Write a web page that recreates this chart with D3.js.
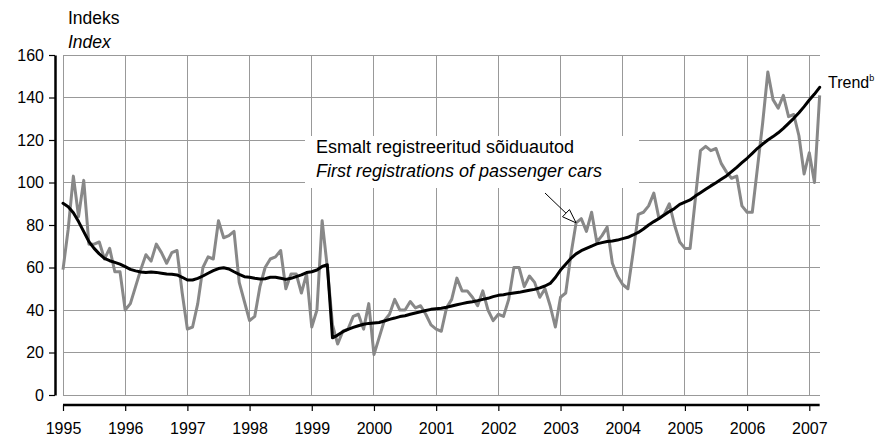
<!DOCTYPE html>
<html>
<head>
<meta charset="utf-8">
<script src="https://cdn.jsdelivr.net/npm/d3@7"></script>
<style>
  html, body { margin: 0; padding: 0; background: #fff; }
  svg text { font-family: Arial, "Liberation Sans", Helvetica, sans-serif; fill: #000; }
</style>
</head>
<body>
<svg id="chart" width="883" height="439"></svg>
<script>
// Monthly index, January 1995 – March 2007
const yearLabels = ["1995","1996","1997","1998","1999","2000","2001","2002","2003","2004","2005","2006","2007"];
const yTickValues = [0, 20, 40, 60, 80, 100, 120, 140, 160];

const registrations = [
  59, 78, 103, 84, 101, 71, 71, 72, 64, 69, 58, 58,     // 1995
  40, 43, 51, 59, 66, 63, 71, 67, 62, 67, 68, 48,       // 1996
  31, 32, 43, 60, 65, 64, 82, 74, 75, 77, 53, 44,       // 1997
  35, 37, 51, 60, 64, 65, 68, 50, 57, 57, 48, 57,       // 1998
  32, 40, 82, 60, 33, 24, 30, 31, 37, 38, 31, 43,       // 1999
  19, 27, 35, 38, 45, 40, 40, 44, 41, 42, 38, 33,       // 2000
  31, 30, 41, 45, 55, 49, 49, 46, 42, 49, 40, 35,       // 2001
  38, 37, 45, 60, 60, 51, 56, 53, 46, 50, 42, 32,       // 2002
  46, 48, 66, 81, 83, 77, 86, 72, 75, 79, 62, 56,       // 2003
  52, 50, 67, 85, 86, 89, 95, 83, 85, 90, 80, 72,       // 2004
  69, 69, 92, 115, 117, 115, 116, 109, 105, 102, 103, 89, // 2005
  86, 86, 107, 128, 152, 139, 135, 141, 131, 132, 122, 104, // 2006
  114, 100, 141                                          // 2007
];

const trend = [
  90.2, 88.6, 85.8, 81.6, 76.9, 72.2, 69.0, 66.4, 64.3, 63.2, 62.4, 61.6,
  60.4, 59.1, 58.4, 57.9, 57.7, 57.9, 57.7, 57.3, 56.9, 56.8, 56.5, 55.4,
  54.1, 54.1, 54.9, 56.0, 57.3, 58.5, 59.5, 59.9, 59.3, 58.0, 56.8, 55.7,
  55.4, 54.9, 54.6, 54.7, 55.4, 55.4, 54.9, 54.4, 54.9, 55.7, 56.5, 57.6,
  58.0, 58.8, 60.5, 61.3, 26.9, 28.2, 29.8, 30.9, 31.8, 32.6, 33.3, 33.7,
  33.9, 34.1, 34.8, 35.6, 36.2, 36.9, 37.3, 38.0, 38.6, 39.2, 39.8, 40.3,
  40.6, 40.8, 41.3, 41.9, 42.5, 43.0, 43.5, 43.9, 44.4, 45.0, 45.5, 46.3,
  46.9, 47.2, 47.7, 48.0, 48.3, 48.8, 49.3, 49.7, 50.4, 51.3, 52.5, 55.3,
  58.8, 61.5, 64.3, 66.4, 67.9, 69.0, 70.1, 71.1, 71.7, 72.2, 72.5, 72.9,
  73.6, 74.2, 75.3, 76.5, 78.1, 80.0, 81.6, 83.1, 84.7, 86.3, 87.8, 89.7,
  90.8, 91.8, 93.6, 95.2, 96.8, 98.4, 99.9, 101.5, 103.1, 105.1, 107.1, 109.3,
  111.4, 113.7, 116.1, 118.1, 120.0, 121.6, 123.4, 125.5, 127.8, 130.2, 132.8, 135.7,
  138.8, 141.6, 144.8
];

const axisTitle = ["Indeks", "Index"];
const seriesLabel = ["Esmalt registreeritud sõiduautod", "First registrations of passenger cars"];
const trendLabel = { text: "Trend", note: "b" };
const arrowMonth = 99;

const svg = d3.select("#chart");

const lastIdx = registrations.length - 1;
const x = d3.scaleLinear().domain([0, 144]).range([63, 809.3]);
const y = d3.scaleLinear().domain([0, 160]).range([395, 55]);
const yearIdx = yearLabels.map((_, k) => k * 12);

// grid
const grid = svg.append("g").attr("stroke", "#999").attr("stroke-width", 1).attr("shape-rendering", "crispEdges");
grid.selectAll("line.h").data(yTickValues).join("line")
  .attr("class", "h")
  .attr("x1", x(0)).attr("x2", x(lastIdx))
  .attr("y1", d => y(d)).attr("y2", d => y(d));
grid.selectAll("line.v").data(yearIdx).join("line")
  .attr("class", "v")
  .attr("x1", d => x(d)).attr("x2", d => x(d))
  .attr("y1", y(0)).attr("y2", y(160));

// y axis
const yAxis = svg.append("g").attr("transform", "translate(55,0)")
  .call(d3.axisLeft(y).tickValues(yTickValues).tickSize(6).tickSizeOuter(0).tickPadding(5));
yAxis.select(".domain").attr("stroke", "#000").attr("stroke-width", 2.5);
yAxis.selectAll(".tick line").attr("stroke", "#000").attr("stroke-width", 1.2);
yAxis.selectAll(".tick text").attr("font-size", 16).attr("font-family", null);

// x axis
const xAxis = svg.append("g").attr("transform", "translate(0,405)")
  .call(d3.axisBottom(x).tickValues(yearIdx).tickFormat((d, k) => yearLabels[k]).tickSize(6).tickPadding(12));
xAxis.select(".domain").remove();
xAxis.append("line")
  .attr("x1", x(0)).attr("x2", x(lastIdx))
  .attr("y1", 0).attr("y2", 0)
  .attr("stroke", "#000").attr("stroke-width", 2.5);
xAxis.selectAll(".tick line").attr("stroke", "#000").attr("stroke-width", 1.2);
xAxis.selectAll(".tick text").attr("font-size", 16).attr("font-family", null);

// series
const line = d3.line().x((d, i) => x(i)).y(d => y(d));
svg.append("path").datum(registrations)
  .attr("d", line).attr("fill", "none")
  .attr("stroke", "#888").attr("stroke-width", 3)
  .attr("stroke-linejoin", "round");
svg.append("path").datum(trend)
  .attr("d", line).attr("fill", "none")
  .attr("stroke", "#000").attr("stroke-width", 3)
  .attr("stroke-linejoin", "round").attr("stroke-linecap", "round");

// axis title
svg.append("text").attr("x", 68).attr("y", 24).attr("font-size", 17.5).text(axisTitle[0]);
svg.append("text").attr("x", 68).attr("y", 48).attr("font-size", 17.5).attr("font-style", "italic").text(axisTitle[1]);

// series label with white backing
svg.append("rect").attr("x", 305).attr("y", 136).attr("width", 334).attr("height", 52).attr("fill", "#fff");
svg.append("text").attr("x", 316).attr("y", 153).attr("font-size", 18).text(seriesLabel[0]);
svg.append("text").attr("x", 316).attr("y", 177).attr("font-size", 18).attr("font-style", "italic").text(seriesLabel[1]);

// pointer arrow to the series
const tip = [x(arrowMonth), y(registrations[arrowMonth])];
const tail = [545, 193];
const ang = Math.atan2(tip[1] - tail[1], tip[0] - tail[0]);
const headLen = 14, headHalf = 5;
const base = [tip[0] - headLen * Math.cos(ang), tip[1] - headLen * Math.sin(ang)];
const px = -Math.sin(ang), py = Math.cos(ang);
svg.append("line")
  .attr("x1", tail[0]).attr("y1", tail[1]).attr("x2", base[0]).attr("y2", base[1])
  .attr("stroke", "#000").attr("stroke-width", 1);
svg.append("polygon")
  .attr("points", [tip, [base[0] + px * headHalf, base[1] + py * headHalf], [base[0] - px * headHalf, base[1] - py * headHalf]].map(p => p.join(",")).join(" "))
  .attr("fill", "#fff").attr("stroke", "#000").attr("stroke-width", 1);

// trend label
const tl = svg.append("text").attr("x", 828).attr("y", 88).attr("font-size", 16);
tl.append("tspan").text(trendLabel.text);
tl.append("tspan").attr("font-size", 9).attr("dy", -7).text(trendLabel.note);
</script>
</body>
</html>
